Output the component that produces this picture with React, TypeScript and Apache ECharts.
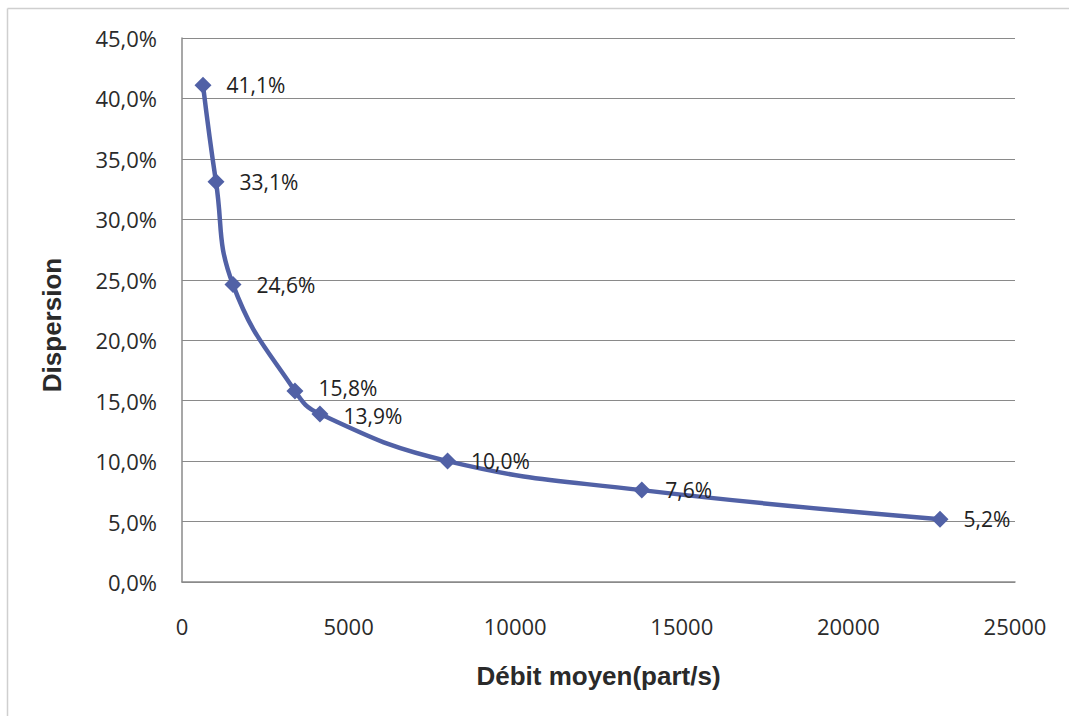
import React, { useEffect, useRef } from "react";
import * as echarts from "echarts";

// Débit moyen (part/s) and the matching dispersion (%)
const debitMoyen = [630, 1020, 1530, 3390, 4140, 7970, 13800, 22750];
const dispersion = [41.1, 33.1, 24.6, 15.8, 13.9, 10.0, 7.6, 5.2];

const xTicks = { min: 0, max: 25000, interval: 5000 };
const yTicks = { min: 0, max: 45, interval: 5 };

const xTitle = "Débit moyen(part/s)";
const yTitle = "Dispersion";

// the two close points get their labels pulled apart a little
const labelNudgeY: Record<number, number> = { 3: -3, 4: 2 };

const pct = (v: number) => `${v.toFixed(1).replace(".", ",")}%`;

export default function App() {
  const ref = useRef<HTMLDivElement>(null);

  useEffect(() => {
    if (!ref.current) return;
    const chart = echarts.init(ref.current, undefined, { renderer: "svg" });
    const labelFont = "'Open Sans', 'Liberation Sans', sans-serif";
    const titleFont = "'Liberation Sans', Arial, sans-serif";

    const points = debitMoyen.map((x, i) => ({
      value: [x, dispersion[i]],
      label: labelNudgeY[i] ? { offset: [0, labelNudgeY[i]] } : undefined,
    }));

    chart.setOption({
      animation: false,
      backgroundColor: "#ffffff",
      grid: { left: 182, right: 54, top: 38, bottom: 134 },
      graphic: [
        {
          type: "line",
          shape: { x1: 7.5, y1: 8.5, x2: 1069, y2: 8.5 },
          style: { stroke: "#cfcfcf", lineWidth: 1.5 },
        },
        {
          type: "line",
          shape: { x1: 7.5, y1: 8.5, x2: 7.5, y2: 716 },
          style: { stroke: "#cfcfcf", lineWidth: 1.5 },
        },
        {
          type: "text",
          x: 52,
          y: 325,
          rotation: Math.PI / 2,
          style: {
            text: yTitle,
            fontFamily: titleFont,
            fontWeight: "bold",
            fontSize: 26,
            fill: "#2a2a2a",
            align: "center",
            verticalAlign: "middle",
          },
        },
      ],
      xAxis: {
        type: "value",
        min: xTicks.min,
        max: xTicks.max,
        interval: xTicks.interval,
        name: xTitle,
        nameLocation: "middle",
        nameGap: 81,
        nameTextStyle: {
          fontFamily: titleFont,
          fontWeight: "bold",
          fontSize: 26,
          color: "#2a2a2a",
        },
        axisLine: { show: true, lineStyle: { color: "#8a8a8a", width: 1.5 } },
        axisTick: { show: false },
        splitLine: { show: false },
        axisLabel: {
          margin: 33,
          fontFamily: labelFont,
          fontSize: 22,
          color: "#2b2b2b",
          formatter: (v: number) => String(v),
        },
      },
      yAxis: {
        type: "value",
        min: yTicks.min,
        max: yTicks.max,
        interval: yTicks.interval,
        axisLine: { show: true, lineStyle: { color: "#8a8a8a", width: 1.5 } },
        axisTick: { show: false },
        splitLine: { show: true, lineStyle: { color: "#8a8a8a", width: 1.2 } },
        axisLabel: {
          margin: 25,
          fontFamily: labelFont,
          fontSize: 22,
          color: "#2b2b2b",
          formatter: (v: number) => pct(v),
        },
      },
      series: [
        {
          type: "line",
          data: points,
          smooth: 0.45,
          symbol: "diamond",
          symbolSize: 17,
          lineStyle: { color: "#5161a6", width: 4.5 },
          itemStyle: { color: "#5161a6" },
          label: {
            show: true,
            position: "right",
            distance: 15,
            fontFamily: labelFont,
            fontSize: 21,
            color: "#222222",
            formatter: (p: any) => pct(p.value[1]),
          },
        },
      ],
    });

    return () => chart.dispose();
  }, []);

  return (
    <div
      ref={ref}
      style={{ position: "fixed", left: 0, top: 0, width: 1069, height: 716 }}
    />
  );
}
